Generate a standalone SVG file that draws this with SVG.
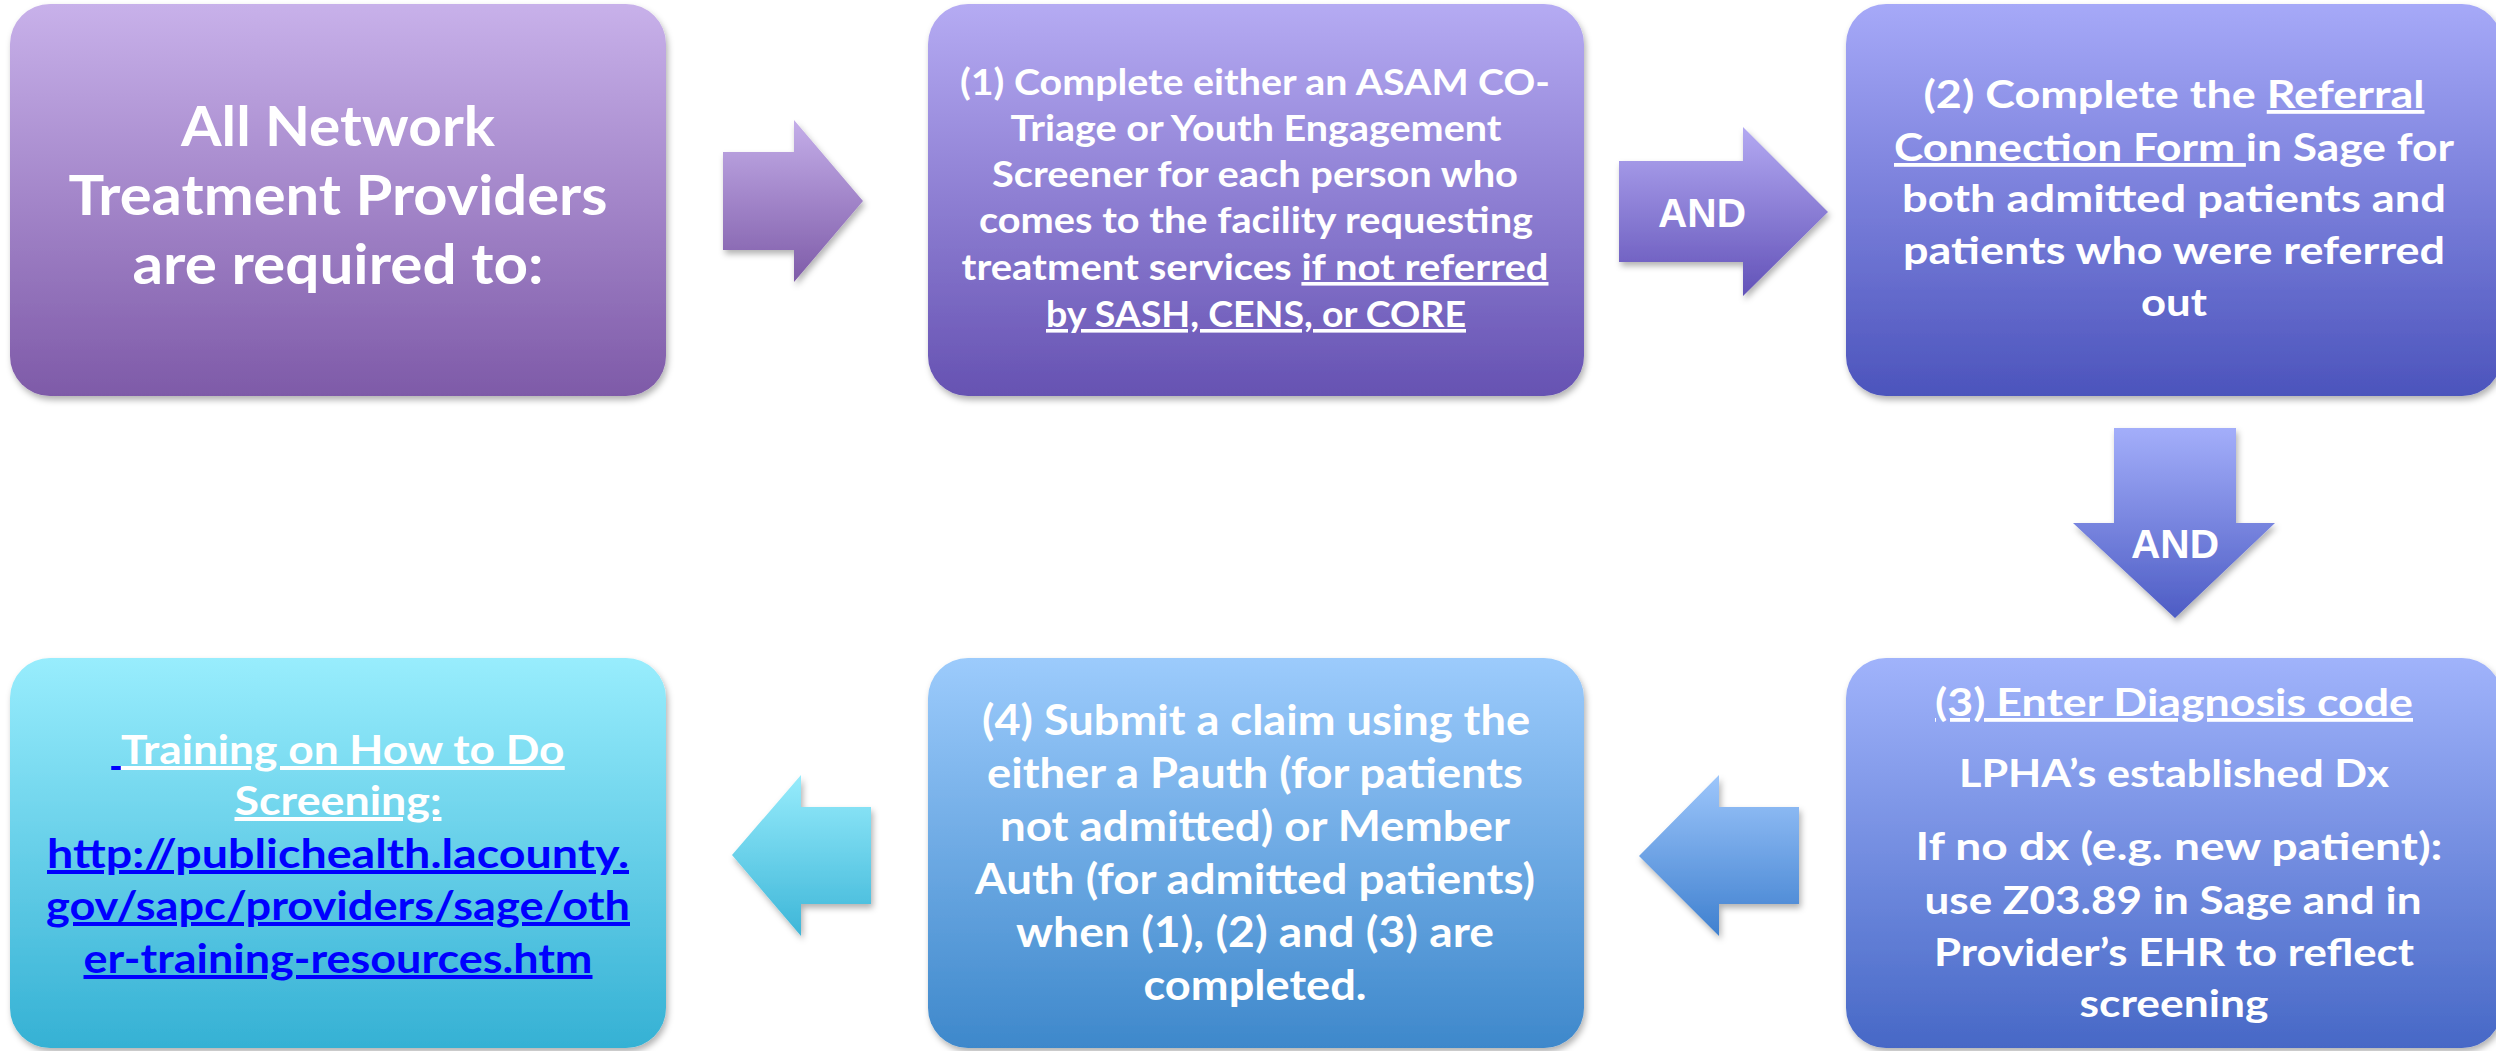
<svg xmlns="http://www.w3.org/2000/svg" width="2496" height="1051" viewBox="0 0 2496 1051">
<defs>
  <linearGradient id="g1" x1="0" y1="0" x2="0" y2="1"><stop offset="0" stop-color="#C8B1EA"/><stop offset="1" stop-color="#7E5AA8"/></linearGradient>
  <linearGradient id="ga1" x1="0" y1="0" x2="0" y2="1"><stop offset="0" stop-color="#C4AEE9"/><stop offset="1" stop-color="#7E5BA8"/></linearGradient>
  <linearGradient id="g2" x1="0" y1="0" x2="0" y2="1"><stop offset="0" stop-color="#B5ABF3"/><stop offset="1" stop-color="#6652B2"/></linearGradient>
  <linearGradient id="ga2" x1="0" y1="0" x2="0" y2="1"><stop offset="0" stop-color="#B3A9F2"/><stop offset="1" stop-color="#6252B8"/></linearGradient>
  <linearGradient id="g3" x1="0" y1="0" x2="0" y2="1"><stop offset="0" stop-color="#A6A9F8"/><stop offset="1" stop-color="#4C54BC"/></linearGradient>
  <linearGradient id="ga3" x1="0" y1="0" x2="0" y2="1"><stop offset="0" stop-color="#A3AEFA"/><stop offset="1" stop-color="#4D5CC4"/></linearGradient>
  <linearGradient id="g4" x1="0" y1="0" x2="0" y2="1"><stop offset="0" stop-color="#A0B3FB"/><stop offset="1" stop-color="#4768C6"/></linearGradient>
  <linearGradient id="ga4" x1="0" y1="0" x2="0" y2="1"><stop offset="0" stop-color="#9DC6FB"/><stop offset="1" stop-color="#3F80CF"/></linearGradient>
  <linearGradient id="g5" x1="0" y1="0" x2="0" y2="1"><stop offset="0" stop-color="#9CCBFC"/><stop offset="1" stop-color="#3E88CB"/></linearGradient>
  <linearGradient id="ga5" x1="0" y1="0" x2="0" y2="1"><stop offset="0" stop-color="#97ECFC"/><stop offset="1" stop-color="#3DB6D8"/></linearGradient>
  <linearGradient id="g6" x1="0" y1="0" x2="0" y2="1"><stop offset="0" stop-color="#98EDFD"/><stop offset="1" stop-color="#35B1D4"/></linearGradient>
  <filter id="sh" x="-10%" y="-10%" width="125%" height="125%">
    <feDropShadow dx="2" dy="4" stdDeviation="3" flood-color="#000" flood-opacity="0.3"/>
  </filter>
</defs>
<style>
  .box { filter: url(#sh); }
  .t { font-family: Lato, "Liberation Sans", sans-serif; font-weight: 700; fill: #FFFFFF; text-anchor: middle; }
  .and { font-family: "Liberation Sans", Arial, sans-serif; font-weight: 700; font-size: 40px; fill: #FFFFFF; text-anchor: middle; }
  .link { fill: #0000FF; }
</style>

<g id="connectors">
  <g id="arrow-1-2">
    <path class="box" fill="url(#ga1)" d="M723,152 L794,152 L794,120 L863,201 L794,282 L794,250 L723,250 Z"/>
  </g>
  <g id="arrow-2-3">
    <path class="box" fill="url(#ga2)" d="M1619,161 L1743,161 L1743,127 L1828,212 L1743,296 L1743,262 L1619,262 Z"/>
    <text class="and" x="1702" y="227" textLength="88" lengthAdjust="spacingAndGlyphs">AND</text>
  </g>
  <g id="arrow-3-4">
    <path class="box" fill="url(#ga3)" d="M2114,428 L2236,428 L2236,523 L2275,523 L2175,618 L2073,523 L2114,523 Z"/>
    <text class="and" x="2175" y="558" textLength="88" lengthAdjust="spacingAndGlyphs">AND</text>
  </g>
  <g id="arrow-4-5">
    <path class="box" fill="url(#ga4)" d="M1799,807 L1719,807 L1719,775 L1639,856 L1719,936 L1719,904 L1799,904 Z"/>
  </g>
  <g id="arrow-5-6">
    <path class="box" fill="url(#ga5)" d="M871,807 L801,807 L801,775 L732,855 L801,936 L801,904 L871,904 Z"/>
  </g>
</g>

<g id="node-start">
  <rect class="box" x="10" y="4" width="656" height="392" rx="40" ry="40" fill="url(#g1)"/>
  <text class="t" font-size="56">
    <tspan x="338" y="146" textLength="314" lengthAdjust="spacingAndGlyphs">All Network</tspan>
  </text>
  <text class="t" font-size="56" x="338" y="215" textLength="539" lengthAdjust="spacingAndGlyphs">Treatment Providers</text>
  <text class="t" font-size="56" x="338" y="284" textLength="411" lengthAdjust="spacingAndGlyphs">are required to:</text>
</g>

<g id="node-step1">
  <rect class="box" x="928" y="4" width="656" height="392" rx="40" ry="40" fill="url(#g2)"/>
  <text class="t" font-size="36" x="1255" y="95" textLength="590" lengthAdjust="spacingAndGlyphs">(1) Complete either an ASAM CO-</text>
  <text class="t" font-size="36" x="1256" y="141" textLength="491" lengthAdjust="spacingAndGlyphs">Triage or Youth Engagement</text>
  <text class="t" font-size="36" x="1255" y="187" textLength="526" lengthAdjust="spacingAndGlyphs">Screener for each person who</text>
  <text class="t" font-size="36" x="1256" y="233" textLength="554" lengthAdjust="spacingAndGlyphs">comes to the facility requesting</text>
  <text class="t" font-size="36" x="1255" y="280" textLength="587" lengthAdjust="spacingAndGlyphs" xml:space="preserve">treatment services <tspan text-decoration="underline">if not referred</tspan></text>
  <text class="t" font-size="36" x="1256" y="327" textLength="420" lengthAdjust="spacingAndGlyphs" text-decoration="underline">by SASH, CENS, or CORE</text>
</g>

<g id="node-step2">
  <rect class="box" x="1846" y="4" width="656" height="392" rx="40" ry="40" fill="url(#g3)"/>
  <text class="t" font-size="38" x="2174" y="108" textLength="501" lengthAdjust="spacingAndGlyphs" xml:space="preserve">(2) Complete the <tspan text-decoration="underline">Referral</tspan></text>
  <text class="t" font-size="38" x="2174" y="161" textLength="560" lengthAdjust="spacingAndGlyphs" xml:space="preserve"><tspan text-decoration="underline">Connection Form </tspan>in Sage for</text>
  <text class="t" font-size="38" x="2174" y="212" textLength="544" lengthAdjust="spacingAndGlyphs">both admitted patients and</text>
  <text class="t" font-size="38" x="2174" y="264" textLength="542" lengthAdjust="spacingAndGlyphs">patients who were referred</text>
  <text class="t" font-size="38" x="2174" y="316" textLength="66" lengthAdjust="spacingAndGlyphs">out</text>
</g>

<g id="node-step3">
  <rect class="box" x="1846" y="658" width="656" height="390" rx="40" ry="40" fill="url(#g4)"/>
  <text class="t" font-size="38" x="2174" y="716" textLength="478" lengthAdjust="spacingAndGlyphs" text-decoration="underline">(3) Enter Diagnosis code</text>
  <text class="t" font-size="38" x="2174" y="787" textLength="430" lengthAdjust="spacingAndGlyphs">LPHA’s established Dx</text>
  <text class="t" font-size="38" x="2179" y="860" textLength="527" lengthAdjust="spacingAndGlyphs">If no dx (e.g. new patient):</text>
  <text class="t" font-size="38" x="2173" y="914" textLength="497" lengthAdjust="spacingAndGlyphs">use Z03.89 in Sage and in</text>
  <text class="t" font-size="38" x="2174" y="966" textLength="480" lengthAdjust="spacingAndGlyphs">Provider’s EHR to reflect</text>
  <text class="t" font-size="38" x="2174" y="1017" textLength="189" lengthAdjust="spacingAndGlyphs">screening</text>
</g>

<g id="node-step4">
  <rect class="box" x="928" y="658" width="656" height="390" rx="40" ry="40" fill="url(#g5)"/>
  <text class="t" font-size="42" x="1256" y="735" textLength="548" lengthAdjust="spacingAndGlyphs">(4) Submit a claim using the</text>
  <text class="t" font-size="42" x="1255" y="788" textLength="536" lengthAdjust="spacingAndGlyphs">either a Pauth (for patients</text>
  <text class="t" font-size="42" x="1255" y="841" textLength="510" lengthAdjust="spacingAndGlyphs">not admitted) or Member</text>
  <text class="t" font-size="42" x="1255" y="894" textLength="560" lengthAdjust="spacingAndGlyphs">Auth (for admitted patients)</text>
  <text class="t" font-size="42" x="1255" y="947" textLength="478" lengthAdjust="spacingAndGlyphs">when (1), (2) and (3) are</text>
  <text class="t" font-size="42" x="1255" y="1000" textLength="223" lengthAdjust="spacingAndGlyphs">completed.</text>
</g>

<g id="node-training">
  <rect class="box" x="10" y="658" width="656" height="390" rx="40" ry="40" fill="url(#g6)"/>
  <text class="t" font-size="40" x="338" y="764" textLength="453" lengthAdjust="spacingAndGlyphs" text-decoration="underline" xml:space="preserve"><tspan class="link" text-decoration="underline"> </tspan><tspan text-decoration="underline">Training on How to Do</tspan></text>
  <text class="t" font-size="40" x="338" y="815" textLength="207" lengthAdjust="spacingAndGlyphs" text-decoration="underline">Screening:</text>
  <text class="t link" font-size="40" x="338" y="868" textLength="582" lengthAdjust="spacingAndGlyphs" text-decoration="underline">http://publichealth.lacounty.</text>
  <text class="t link" font-size="40" x="338" y="920" textLength="584" lengthAdjust="spacingAndGlyphs" text-decoration="underline">gov/sapc/providers/sage/oth</text>
  <text class="t link" font-size="40" x="338" y="973" textLength="509" lengthAdjust="spacingAndGlyphs" text-decoration="underline">er-training-resources.htm</text>
</g>
</svg>
